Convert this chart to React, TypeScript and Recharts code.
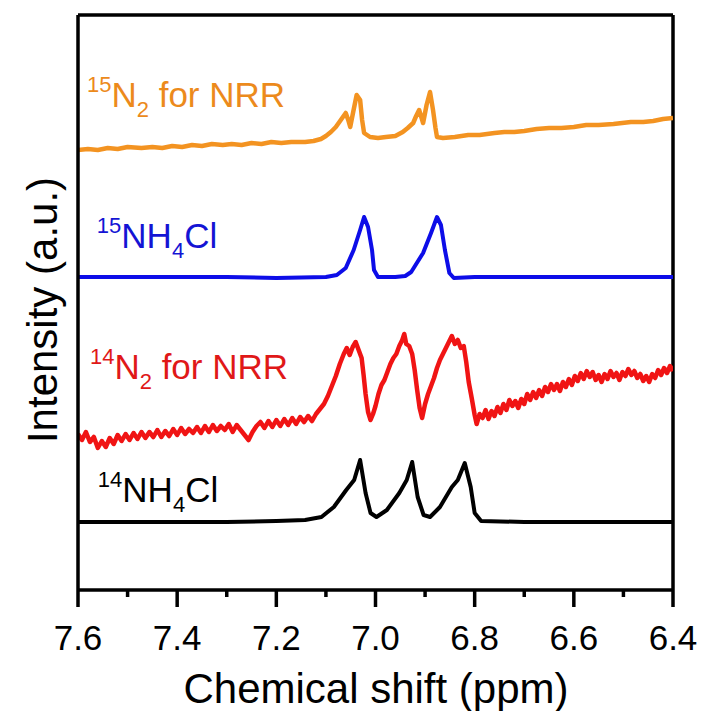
import { LineChart, Line, XAxis, YAxis, ReferenceLine, ReferenceDot } from "recharts";

// chemical shift (ppm) / intensity (offset traces, arbitrary units)
const ppmTicks = [7.6, 7.5, 7.4, 7.3, 7.2, 7.1, 7.0, 6.9, 6.8, 6.7, 6.6, 6.5, 6.4];

const n15Nrr = [
  [7.6, 440], [7.58, 441], [7.56, 440], [7.54, 442], [7.52, 441], [7.5, 443], [7.472, 442],
  [7.45, 443], [7.43, 442], [7.41, 444], [7.39, 443], [7.37, 445], [7.35, 444], [7.33, 446],
  [7.308, 445], [7.29, 446], [7.27, 445], [7.25, 447], [7.23, 446], [7.21, 448], [7.19, 447],
  [7.17, 448], [7.142, 448], [7.125, 449], [7.11, 451], [7.1, 454], [7.09, 458], [7.08, 463],
  [7.07, 470], [7.06, 477], [7.055, 470], [7.051, 463], [7.045, 478], [7.038, 495], [7.031, 490],
  [7.027, 470], [7.023, 457], [7.011, 453], [6.995, 452], [6.979, 453], [6.96, 454], [6.945, 458],
  [6.935, 462], [6.924, 467], [6.918, 474], [6.912, 480], [6.907, 472], [6.904, 467], [6.897, 485],
  [6.89, 498], [6.884, 480], [6.879, 462], [6.876, 453], [6.864, 452], [6.84, 453], [6.813, 455],
  [6.79, 455], [6.76, 457], [6.74, 458], [6.72, 458], [6.7, 459], [6.675, 461], [6.65, 462],
  [6.625, 462], [6.6, 463], [6.575, 465], [6.55, 465], [6.52, 466], [6.485, 468], [6.46, 468],
  [6.44, 469], [6.42, 471], [6.4, 472],
].map(([x, v]) => ({ x, v }));

const n15Nh4cl = [
  [7.6, 313], [7.45, 313], [7.3, 313], [7.2, 312], [7.1, 313], [7.078, 315], [7.06, 322],
  [7.044, 340], [7.031, 360], [7.023, 373], [7.015, 363], [7.007, 340], [7.003, 320], [6.995, 313],
  [6.96, 313], [6.94, 314], [6.928, 318], [6.904, 337], [6.888, 357], [6.876, 373], [6.868, 365],
  [6.86, 340], [6.851, 317], [6.842, 312], [6.8, 313], [6.7, 313], [6.55, 313], [6.4, 313],
].map(([x, v]) => ({ x, v }));

const n14Nrr = [
  [7.6, 156], [7.592, 150], [7.584, 158], [7.576, 148], [7.568, 153], [7.56, 142], [7.552, 149],
  [7.544, 143], [7.536, 152], [7.528, 146], [7.52, 155], [7.512, 149], [7.504, 156], [7.496, 150],
  [7.488, 157], [7.48, 151], [7.472, 158], [7.464, 152], [7.456, 158], [7.448, 153], [7.44, 160],
  [7.432, 153], [7.424, 159], [7.416, 154], [7.408, 161], [7.4, 155], [7.392, 162], [7.384, 156],
  [7.376, 161], [7.368, 157], [7.36, 163], [7.352, 157], [7.344, 164], [7.336, 158], [7.328, 165],
  [7.32, 159], [7.312, 164], [7.304, 160], [7.296, 166], [7.288, 158], [7.28, 165], [7.272, 160],
  [7.264, 155], [7.256, 150], [7.248, 158], [7.24, 164], [7.232, 168], [7.224, 162], [7.216, 169],
  [7.208, 163], [7.2, 170], [7.192, 164], [7.184, 171], [7.176, 165], [7.168, 172], [7.16, 166],
  [7.152, 173], [7.144, 168], [7.136, 174], [7.128, 169], [7.12, 176], [7.112, 181], [7.104, 186],
  [7.096, 194], [7.088, 204], [7.08, 214], [7.072, 226], [7.064, 236], [7.058, 242], [7.052, 235],
  [7.046, 243], [7.04, 248], [7.034, 240], [7.028, 232], [7.024, 215], [7.02, 196], [7.015, 178],
  [7.01, 170], [7.005, 176], [7.0, 184], [6.994, 196], [6.988, 205], [6.982, 210], [6.976, 218],
  [6.97, 226], [6.964, 232], [6.958, 236], [6.952, 244], [6.946, 250], [6.942, 256], [6.938, 246],
  [6.932, 244], [6.926, 236], [6.921, 220], [6.916, 200], [6.911, 182], [6.906, 172], [6.9, 186],
  [6.894, 196], [6.888, 204], [6.882, 212], [6.876, 222], [6.87, 230], [6.864, 236], [6.858, 242],
  [6.852, 248], [6.846, 254], [6.84, 246], [6.834, 250], [6.828, 242], [6.822, 244], [6.817, 228],
  [6.812, 208], [6.806, 192], [6.8, 175], [6.796, 166], [6.79, 176], [6.784, 172], [6.778, 180],
  [6.772, 171], [6.766, 179], [6.76, 174], [6.754, 183], [6.748, 177], [6.742, 186], [6.736, 180],
  [6.73, 190], [6.724, 184], [6.718, 189], [6.712, 182], [6.706, 191], [6.7, 186], [6.694, 196],
  [6.688, 190], [6.682, 198], [6.676, 192], [6.67, 200], [6.664, 194], [6.658, 203], [6.652, 198],
  [6.646, 206], [6.64, 200], [6.634, 206], [6.628, 199], [6.622, 208], [6.616, 203], [6.61, 211],
  [6.604, 205], [6.598, 214], [6.592, 209], [6.586, 217], [6.58, 211], [6.574, 219], [6.568, 213],
  [6.562, 218], [6.556, 210], [6.55, 215], [6.544, 208], [6.538, 216], [6.532, 211], [6.526, 219],
  [6.52, 213], [6.514, 217], [6.508, 210], [6.502, 218], [6.496, 214], [6.49, 221], [6.484, 215],
  [6.478, 219], [6.472, 212], [6.466, 216], [6.46, 209], [6.454, 214], [6.448, 208], [6.442, 216],
  [6.436, 212], [6.43, 220], [6.424, 215], [6.418, 222], [6.412, 217], [6.406, 224], [6.4, 219],
].map(([x, v]) => ({ x, v }));

const n14Nh4cl = [
  [7.6, 68], [7.45, 68], [7.3, 68], [7.2, 69], [7.142, 70], [7.109, 73], [7.084, 83], [7.059, 100],
  [7.043, 110], [7.031, 130], [7.02, 97], [7.01, 77], [6.998, 73], [6.977, 80], [6.952, 97],
  [6.937, 110], [6.926, 128], [6.915, 93], [6.903, 75], [6.89, 73], [6.87, 83], [6.846, 103],
  [6.834, 110], [6.82, 127], [6.808, 103], [6.8, 77], [6.787, 69], [6.7, 68], [6.55, 68], [6.4, 68],
].map(([x, v]) => ({ x, v }));

const FONT = "'Liberation Sans', Arial, sans-serif";

function PpmTick({ x, y, payload }: any) {
  const major = Math.round(payload.value * 10) % 2 === 0;
  return (
    <g>
      <line x1={x} x2={x} y1={y} y2={y + (major ? 17 : 7)} stroke="#000" strokeWidth={3.5} />
      {major && (
        <text x={x} y={y + 60} textAnchor="middle" fontSize={35} fill="#000" fontFamily={FONT}>
          {payload.value.toFixed(1)}
        </text>
      )}
    </g>
  );
}

function SeriesLabel({ viewBox, sup, main, sub, rest, color, size = 35 }: any) {
  const { x, y } = viewBox;
  return (
    <text x={x} y={y} fill={color} fontSize={size} fontFamily={FONT}>
      <tspan fontSize={22} dy={-15}>{sup}</tspan>
      <tspan dy={15}>{main}</tspan>
      <tspan fontSize={22} dy={10}>{sub}</tspan>
      <tspan dy={-10}>{rest}</tspan>
    </text>
  );
}

export default function App() {
  return (
    <div style={{ position: "absolute", left: 0, top: 0 }}>
      <LineChart width={702} height={711} margin={{ top: 15, right: 29, bottom: 0, left: 0 }}>
        <XAxis
          dataKey="x"
          type="number"
          domain={[6.4, 7.6]}
          reversed
          allowDataOverflow
          ticks={ppmTicks}
          interval={0}
          tickLine={false}
          tickSize={0}
          tickMargin={0}
          tick={<PpmTick />}
          axisLine={{ stroke: "#000", strokeWidth: 3.5 }}
          height={121}
          label={{
            content: () => (
              <text x={376} y={703} textAnchor="middle" fontSize={42} fill="#000" fontFamily={FONT}>
                Chemical shift (ppm)
              </text>
            ),
          }}
        />
        <YAxis
          type="number"
          domain={[0, 575]}
          allowDataOverflow
          tick={false}
          tickLine={false}
          width={78}
          axisLine={{ stroke: "#000", strokeWidth: 3.5 }}
          label={{
            content: () => (
              <text
                x={57}
                y={310}
                transform="rotate(-90 57 310)"
                textAnchor="middle"
                fontSize={42}
                fill="#000"
                fontFamily={FONT}
              >
                Intensity (a.u.)
              </text>
            ),
          }}
        />
        <ReferenceLine y={575} stroke="#000" strokeWidth={3.5} />
        <ReferenceLine x={6.4} stroke="#000" strokeWidth={3.5} />

        <Line data={n15Nrr} dataKey="v" type="linear" stroke="#F39321" strokeWidth={4.5} strokeLinejoin="round" dot={false} isAnimationActive={false} />
        <Line data={n15Nh4cl} dataKey="v" type="linear" stroke="#0d0de8" strokeWidth={4} strokeLinejoin="round" dot={false} isAnimationActive={false} />
        <Line data={n14Nrr} dataKey="v" type="linear" stroke="#f01414" strokeWidth={4.5} strokeLinejoin="round" dot={false} isAnimationActive={false} />
        <Line data={n14Nh4cl} dataKey="v" type="linear" stroke="#000" strokeWidth={4} strokeLinejoin="round" dot={false} isAnimationActive={false} />

        <ReferenceDot x={7.582} y={483} r={0} fill="none" stroke="none"
          label={<SeriesLabel sup="15" main="N" sub="2" rest=" for NRR" color="#EC8A1C" />} />
        <ReferenceDot x={7.562} y={342} r={0} fill="none" stroke="none"
          label={<SeriesLabel sup="15" main="NH" sub="4" rest="Cl" color="#1414d4" />} />
        <ReferenceDot x={7.576} y={211} r={0} fill="none" stroke="none"
          label={<SeriesLabel sup="14" main="N" sub="2" rest=" for NRR" color="#e01818" />} />
        <ReferenceDot x={7.56} y={88} r={0} fill="none" stroke="none"
          label={<SeriesLabel sup="14" main="NH" sub="4" rest="Cl" color="#000" />} />
      </LineChart>
    </div>
  );
}
